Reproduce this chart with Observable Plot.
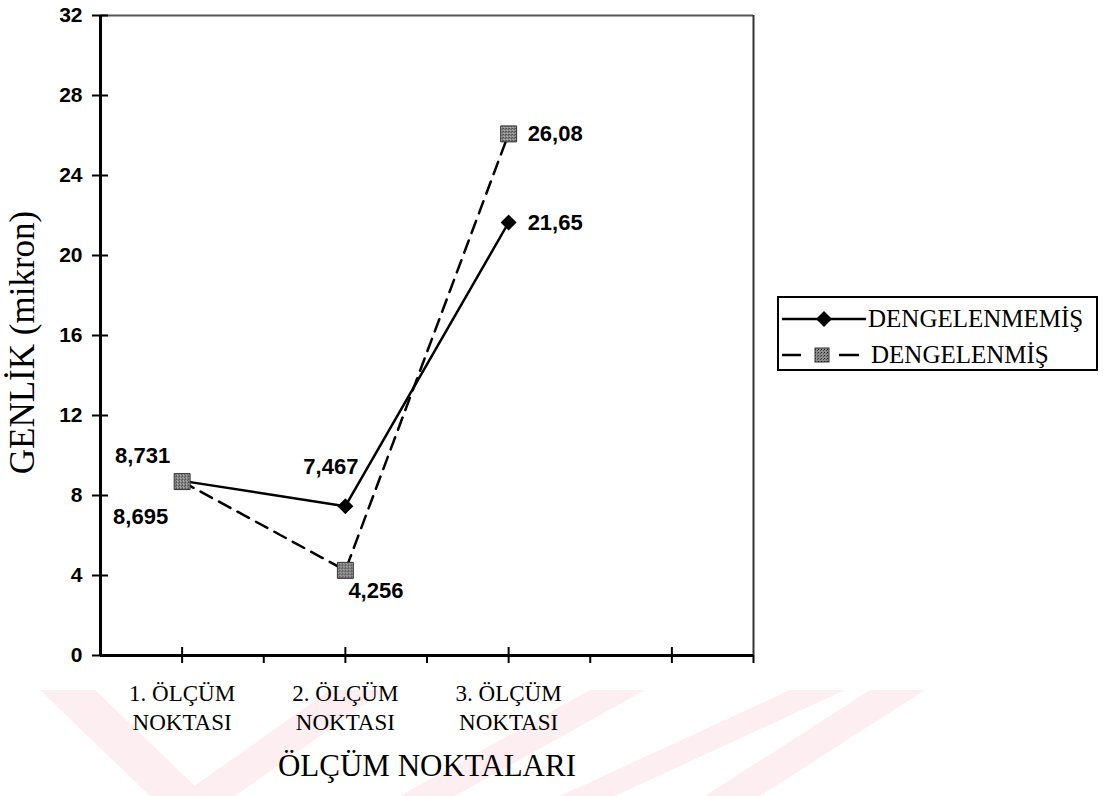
<!DOCTYPE html>
<html>
<head>
<meta charset="utf-8">
<script src="https://cdn.jsdelivr.net/npm/d3@7"></script>
<script src="https://cdn.jsdelivr.net/npm/@observablehq/plot@0.6"></script>
<style>
  html, body { margin: 0; padding: 0; background: #fff; }
  #wrap { position: relative; width: 1110px; height: 796px; overflow: hidden; background: #fff; }
  #wm { position: absolute; left: 0; top: 0; z-index: 0; }
  #chart { position: absolute; left: 0; top: 0; z-index: 1; }
  #legend { position: absolute; left: 777px; top: 296px; width: 317px; height: 71px; border: 2px solid #000;
            background: #fff; z-index: 2; font-family: "Liberation Serif", "DejaVu Serif", "Times New Roman", serif; font-size: 25px; color: #000; }
  .lrow { position: absolute; left: 0; height: 34px; display: flex; align-items: center; white-space: nowrap; }
  .lrow svg { display: block; }
  #chart text.serif { font-family: "Liberation Serif", "DejaVu Serif", "Times New Roman", serif; }
</style>
</head>
<body>
<div id="wrap">
  <svg id="wm" width="1110" height="796"></svg>
  <div id="chart"></div>
  <div id="legend"></div>
</div>
<script>
// ---- data ----
const categories = ["1. ÖLÇÜM\nNOKTASI", "2. ÖLÇÜM\nNOKTASI", "3. ÖLÇÜM\nNOKTASI"];
const slotCount = 4; // category slots on the axis (last one empty)
const seriesNames = ["DENGELENMEMİŞ", "DENGELENMİŞ"];
const dengelenmemis = [8.731, 7.467, 21.65];
const dengelenmis = [8.695, 4.256, 26.08];
const yTicks = [0, 4, 8, 12, 16, 20, 24, 28, 32];

// ---- label placement (styling, not data) ----
const labelPlacement = [
  {s: 0, i: 0, anchor: "end",   dx: -12, dy: -25},
  {s: 0, i: 1, anchor: "end",   dx: 13,  dy: -39},
  {s: 0, i: 2, anchor: "start", dx: 19,  dy: 0},
  {s: 1, i: 0, anchor: "end",   dx: -14, dy: 35},
  {s: 1, i: 1, anchor: "start", dx: 3,   dy: 21},
  {s: 1, i: 2, anchor: "start", dx: 19,  dy: 0}
];

const series = [dengelenmemis, dengelenmis];
const rows = series.map((vals, s) => vals.map((v, i) => ({s, i, v, name: seriesNames[s], label: String(v).replace(".", ",")})));
const cx = d => d.i + 0.5;

const centers = d3.range(slotCount).map(i => i + 0.5);
const bounds = d3.range(1, slotCount + 1);

const sans = "Liberation Sans, Arial, sans-serif";
const serif = "Liberation Serif, DejaVu Serif, Times New Roman, serif";

const marks = [
  // frame top & right
  Plot.ruleY([yTicks[yTicks.length - 1]], {stroke: "#555", strokeWidth: 2}),
  Plot.ruleX([slotCount], {stroke: "#333", strokeWidth: 2}),
  // downward ticks at category boundaries
  Plot.axisX(bounds, {tickSize: 8, tickFormat: () => "", label: null, stroke: "#000", strokeWidth: 2}),
  // crossing ticks at category centres
  Plot.ruleX(centers, {y1: 0, y2: 0, insetTop: -8, insetBottom: -8, stroke: "#000", strokeWidth: 2}),
  // crossing y ticks
  Plot.ruleY(yTicks, {x1: 0, x2: 0, insetLeft: -8, insetRight: -8, stroke: "#000", strokeWidth: 2}),
  // axis lines
  Plot.ruleX([0], {stroke: "#000", strokeWidth: 3}),
  Plot.ruleY([0], {stroke: "#000", strokeWidth: 3}),
  // y tick labels
  Plot.text(yTicks, {x: () => 0, y: d => d, text: d => String(d), dx: -18, textAnchor: "end",
    fontSize: 21, fontWeight: "bold", fontFamily: sans, fill: "#000"}),
  // category labels
  Plot.text(categories, {x: (d, i) => i + 0.5, frameAnchor: "bottom", dy: 25, lineAnchor: "top", textAnchor: "middle",
    lineHeight: 1.25, fontSize: 23, fontFamily: serif, fill: "#000", className: "serif"}),
  // axis titles
  Plot.text(["ÖLÇÜM NOKTALARI"], {frameAnchor: "bottom", dy: 111, lineAnchor: "middle", textAnchor: "middle",
    fontSize: 31, fontFamily: serif, fill: "#000", className: "serif"}),
  Plot.text(["GENLİK (mikron)"], {frameAnchor: "left", rotate: -90, dx: -78, dy: 7, lineAnchor: "middle", textAnchor: "middle",
    fontSize: 35, fontFamily: serif, fill: "#000", className: "serif"}),
  // lines
  Plot.line(rows[0], {x: cx, y: "v", stroke: "#000", strokeWidth: 2.5}),
  Plot.line(rows[1], {x: cx, y: "v", stroke: "#000", strokeWidth: 2.5, strokeDasharray: "13,8"}),
  // markers
  Plot.dot(rows[0], {x: cx, y: "v", symbol: "diamond2", r: 7.2, fill: "#000", stroke: "none"}),
  Plot.dot(rows[1], {x: cx, y: "v", symbol: "square", r: 9, fill: "url(#sqpat)", stroke: "#333", strokeWidth: 1})
];
// value labels
for (const p of labelPlacement) {
  marks.push(Plot.text([rows[p.s][p.i]], {x: cx, y: "v", text: "label", textAnchor: p.anchor, dx: p.dx, dy: p.dy,
    lineAnchor: "middle", fontSize: 22, fontWeight: "bold", fontFamily: sans, fill: "#000"}));
}

const chart = Plot.plot({
  width: 1110, height: 796,
  marginLeft: 100, marginRight: 357, marginTop: 15, marginBottom: 141,
  x: {domain: [0, slotCount], axis: null},
  y: {domain: [0, 32], axis: null},
  style: {background: "transparent", overflow: "visible"},
  marks
});

// stippled pattern for squares
const ns = "http://www.w3.org/2000/svg";
const defs = document.createElementNS(ns, "defs");
defs.innerHTML = `<pattern id="sqpat" width="3" height="3" patternUnits="userSpaceOnUse">
  <rect width="3" height="3" fill="#8e8e8e"/><rect x="0" y="0" width="1" height="1" fill="#222"/><rect x="2" y="1" width="1" height="1" fill="#444"/><rect x="1" y="2" width="1" height="1" fill="#c8c8c8"/></pattern>`;
chart.insertBefore(defs, chart.firstChild);
document.getElementById("chart").appendChild(chart);

// ---- legend ----
const legend = document.getElementById("legend");
const legendStyles = [
  {dash: null, symbol: "diamond"},
  {dash: "18,14", symbol: "square"}
];
seriesNames.forEach((name, s) => {
  const row = document.createElement("div");
  row.className = "lrow";
  row.style.top = (s === 0 ? 4 : 40) + "px";
  const st = legendStyles[s];
  let sw = `<svg width="90" height="30" viewBox="0 0 90 30">`;
  if (st.dash) {
    sw += `<line x1="3" x2="22" y1="15" y2="15" stroke="#000" stroke-width="2.5"/>`;
    sw += `<line x1="60" x2="80" y1="15" y2="15" stroke="#000" stroke-width="2.5"/>`;
    sw += `<rect x="36" y="8" width="14" height="14" fill="url(#sqpat2)" stroke="#333" stroke-width="1"/>`;
    sw += `<defs><pattern id="sqpat2" width="3" height="3" patternUnits="userSpaceOnUse"><rect width="3" height="3" fill="#8e8e8e"/><rect width="1" height="1" fill="#222"/><rect x="2" y="1" width="1" height="1" fill="#444"/></pattern></defs>`;
  } else {
    sw += `<line x1="3" x2="87" y1="15" y2="15" stroke="#000" stroke-width="2.5"/>`;
    sw += `<path d="M45,7 L53,15 L45,23 L37,15 Z" fill="#000"/>`;
  }
  sw += `</svg>`;
  row.innerHTML = sw + `<span style="margin-left:${s === 0 ? -1 : 2}px">${name}</span>`;
  legend.appendChild(row);
});

// ---- faint watermark stripes (decoration) ----
const wm = document.getElementById("wm");
const stripes = [
  [[40, 690], [95, 690], [205, 796], [150, 796]],
  [[330, 690], [385, 690], [235, 796], [180, 796]],
  [[590, 690], [645, 690], [455, 796], [400, 796]],
  [[790, 690], [845, 690], [615, 796], [560, 796]],
  [[870, 690], [925, 690], [760, 796], [705, 796]]
];
for (const pts of stripes) {
  const p = document.createElementNS(ns, "polygon");
  p.setAttribute("points", pts.map(q => q.join(",")).join(" "));
  p.setAttribute("fill", "#fdeef1");
  wm.appendChild(p);
}
</script>
</body>
</html>
